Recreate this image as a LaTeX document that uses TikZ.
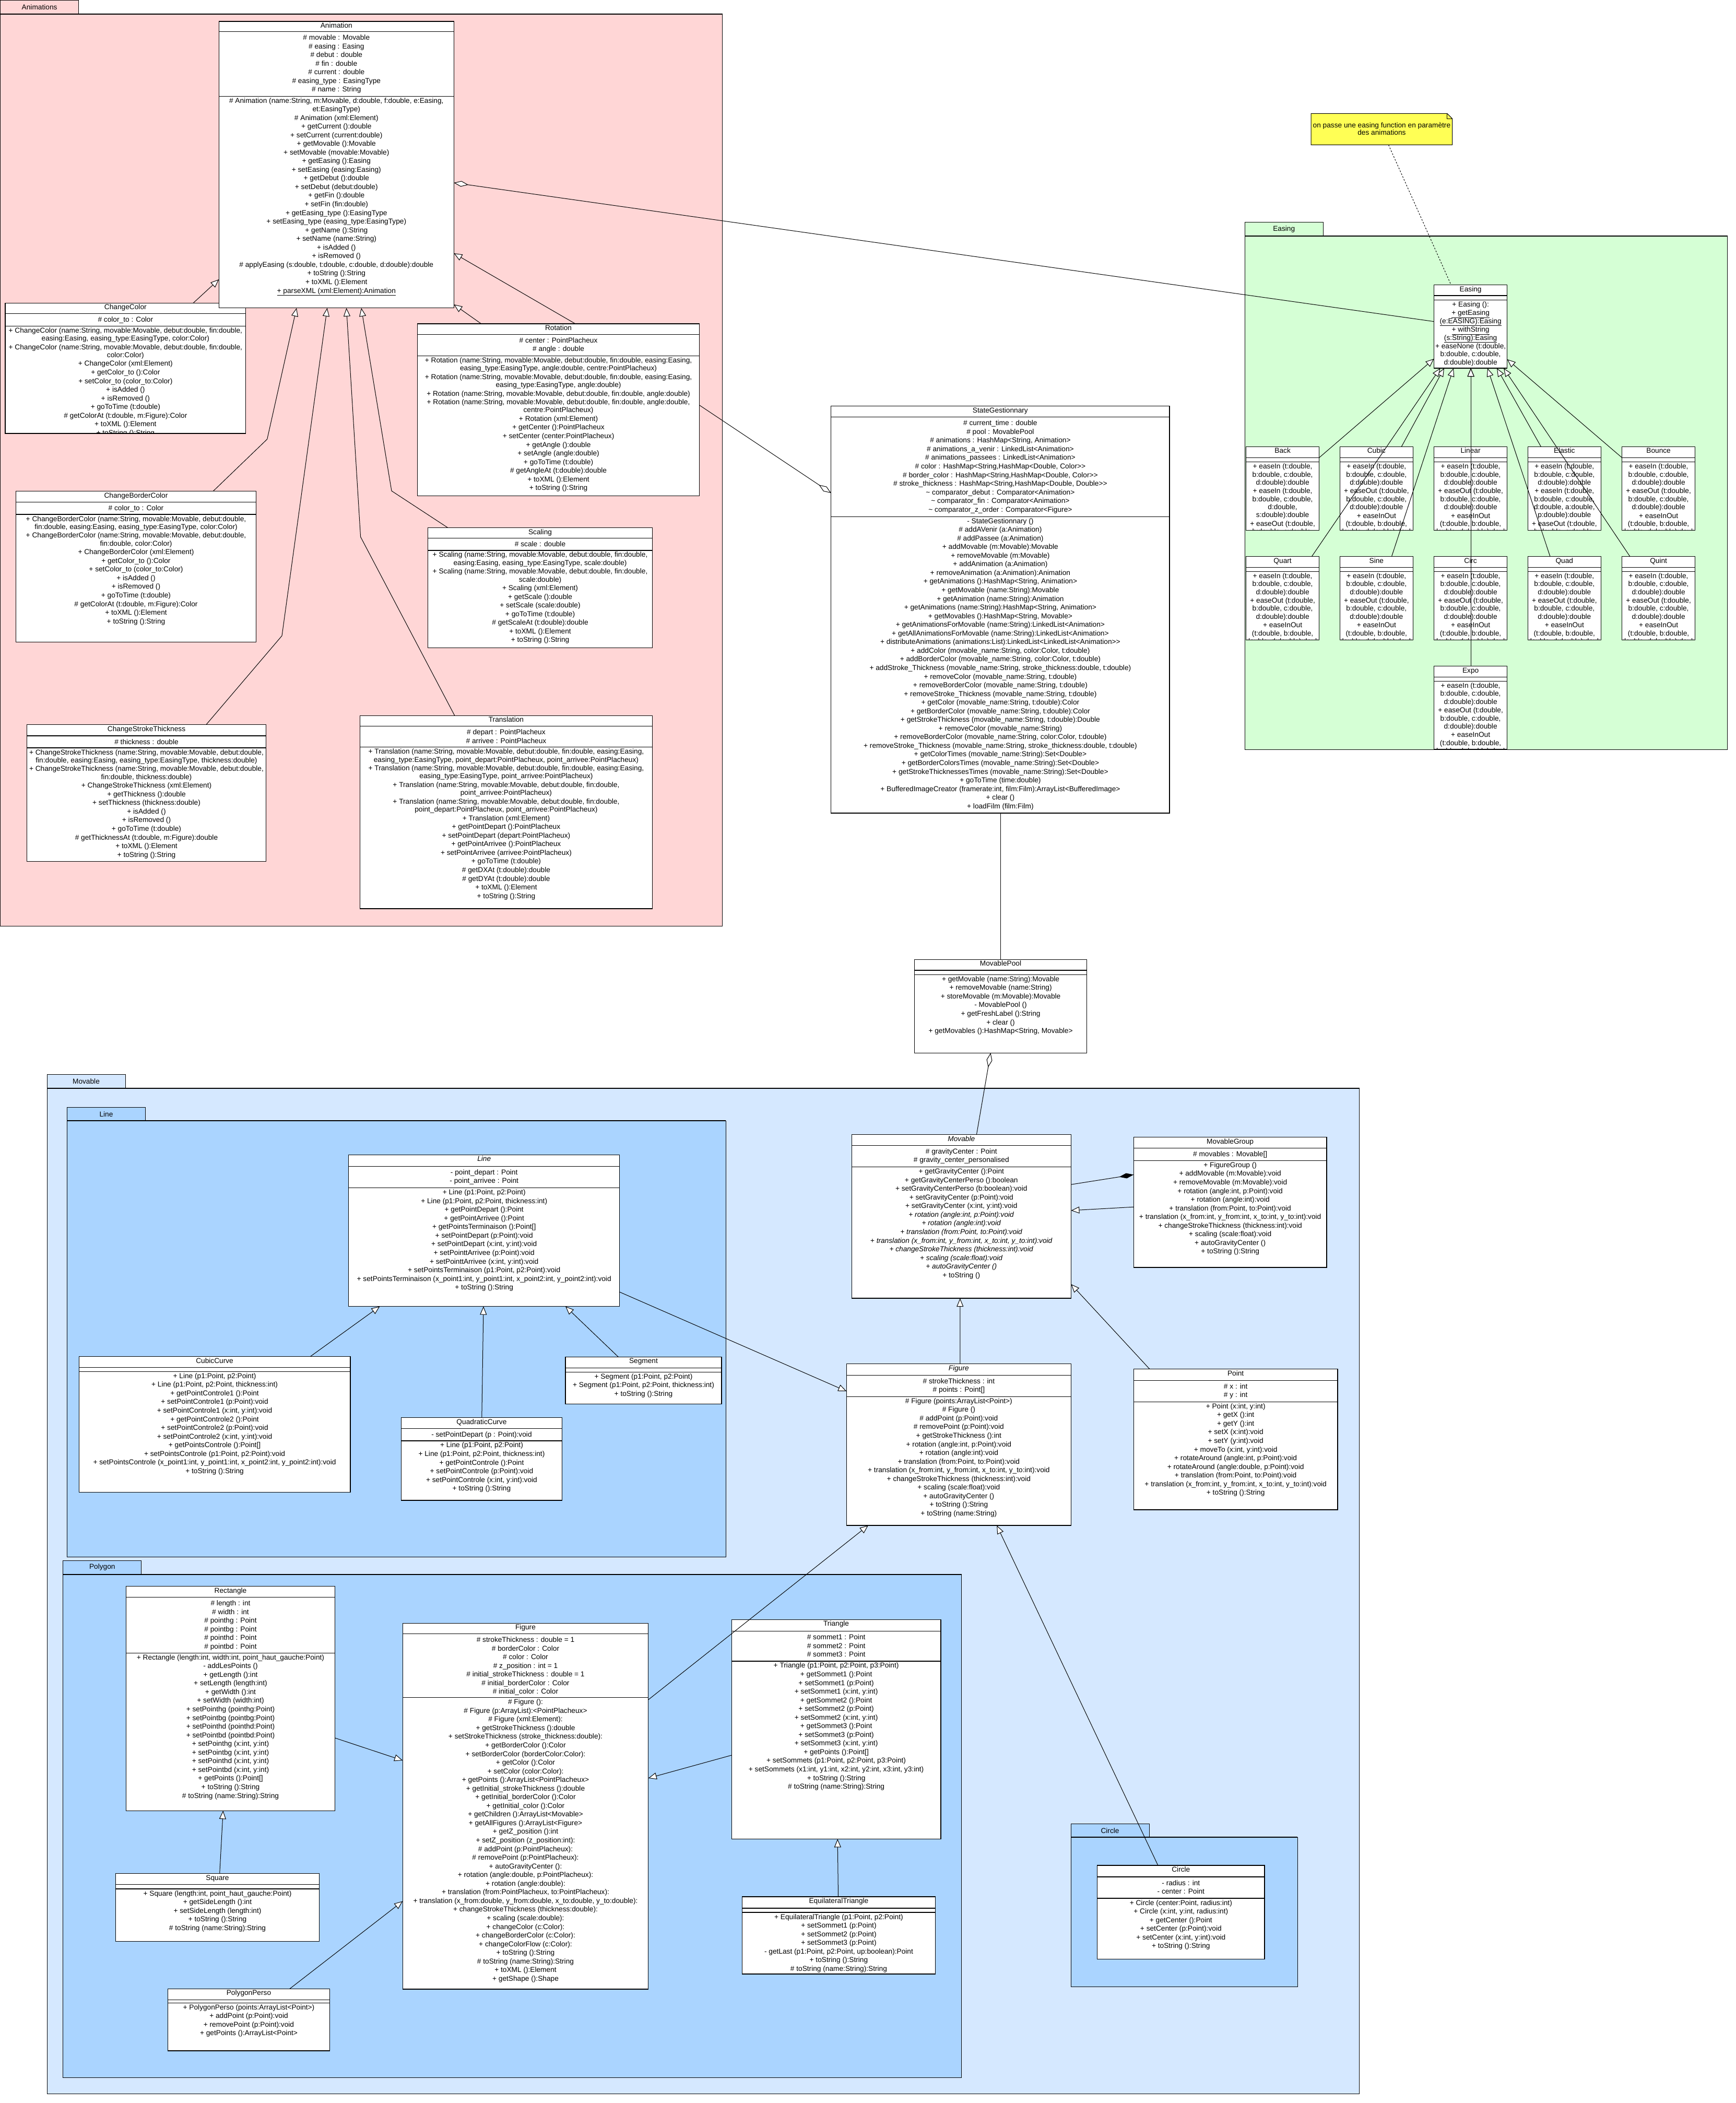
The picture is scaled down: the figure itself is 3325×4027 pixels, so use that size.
\documentclass[tikz,border=0pt]{standalone}
\usepackage{fontspec}
\setmainfont{Liberation Sans}
\usetikzlibrary{arrows.meta,calc}
\definecolor{pinkpkg}{RGB}{255,214,214}
\definecolor{greenpkg}{RGB}{213,255,213}
\definecolor{bluepkg}{RGB}{213,232,255}
\definecolor{blueinner}{RGB}{170,212,255}
\definecolor{noteyellow}{RGB}{255,255,85}
\newcommand\clsbox[7]{%
  \pgfmathsetmacro\uW{#3-#2}%
  \pgfmathsetmacro\uH{#7-#4}%
  \pgfmathsetmacro\uX{(#2+#3)/2}%
  \def\uN{#1}\def\uL{#2}\def\uR{#3}\def\uT{#4}\def\uTS{#5}\def\uAS{#6}\def\uB{#7}%
  \node[clsnode, minimum width=\uW pt, minimum height=\uH pt, anchor=north west] (#1) at (#2,#4) {};
  \draw[sepline] (#2,#5) -- (#3,#5) (#2,#6) -- (#3,#6);}
\newcommand\clstitle[1]{\node[txt, anchor=north] (\uN-t) at (\uX,\uT+1.5) {\rule{0pt}{11pt}#1};}
\newcommand\clsattr[1]{\begin{scope}\clip (\uL,\uTS) rectangle (\uR,\uAS);
  \node[txt, anchor=north] (\uN-a) at (\uX,\uTS+5) {\rule{0pt}{11pt}#1};\end{scope}}
\newcommand\clsmeth[1]{\begin{scope}\clip (\uL,\uAS) rectangle (\uR,\uB);
  \node[txt, anchor=north] (\uN-m) at (\uX,\uAS+2) {\rule{0pt}{11pt}#1};\end{scope}}
\newcommand\pkg[8]{%
  \filldraw[pkgline, fill=#7] (#2,#3) rectangle ({#2+150},#4);
  \filldraw[pkgline, fill=#7] (#2,#4) rectangle (#5,#6);
  \draw[line width=2pt] (#2,#4) -- (#5,#4);
  \node[txt] (#1) at ({#2+75},{(#3+#4)/2}) {#8};}
\newcommand\easeStd{+ easeIn (t:double,\\[-1.25pt]b:double, c:double,\\[-1.25pt]d:double):double\\+ easeOut (t:double,\\[-1.25pt]b:double, c:double,\\[-1.25pt]d:double):double\\+ easeInOut\\[-1.25pt](t:double, b:double,\\[-1.25pt]c:double, d:double):double}
\newcommand\easeBack{+ easeIn (t:double,\\[-1.25pt]b:double, c:double,\\[-1.25pt]d:double):double\\+ easeIn (t:double,\\[-1.25pt]b:double, c:double,\\[-1.25pt]d:double,\\[-1.25pt]s:double):double\\+ easeOut (t:double,\\[-1.25pt]b:double, c:double,\\[-1.25pt]d:double,\\[-1.25pt]s:double):double}
\newcommand\easeElastic{+ easeIn (t:double,\\[-1.25pt]b:double, c:double,\\[-1.25pt]d:double):double\\+ easeIn (t:double,\\[-1.25pt]b:double, c:double,\\[-1.25pt]d:double, a:double,\\[-1.25pt]p:double):double\\+ easeOut (t:double,\\[-1.25pt]b:double, c:double,\\[-1.25pt]d:double):double}
\begin{document}
\begin{tikzpicture}[x=1pt,y=-1pt,
  clsnode/.style={draw=black, line width=1.2pt, fill=white, inner sep=0pt, outer sep=0pt},
  sepline/.style={line width=1.2pt},
  txt/.style={inner sep=0pt, outer sep=0pt, align=center, font=\fontsize{13.7}{16.55}\selectfont},
  conn/.style={line width=1pt},
  gen/.style={conn, -{Triangle[length=16pt, width=13pt, fill=white]}},
  agg/.style={conn, {Diamond[length=28pt, width=11pt, fill=white]}-},
  comp/.style={conn, {Diamond[length=28pt, width=10pt]}-},
  pkgline/.style={line width=1pt}]
\useasboundingbox (0,0) rectangle (3325,4027);
\fill[white] (0,0) rectangle (3325,4027);
% ---------------- packages ----------------
\pkg{pkgAnim}{0.6}{0.6}{26.5}{1383}{1773}{pinkpkg}{Animations}
\pkg{pkgEasing}{2384.2}{425.3}{451.7}{3308}{1435}{greenpkg}{Easing}
\pkg{pkgMovable}{90}{2057.5}{2083.9}{2603}{4009}{bluepkg}{Movable}
\pkg{pkgLine}{128.5}{2120}{2146.4}{1390}{2981}{blueinner}{Line}
\pkg{pkgPolygon}{120.8}{2988.2}{3014.6}{1841.4}{3978}{blueinner}{Polygon}
\pkg{pkgCircle}{2051}{3492}{3518.3}{2485}{3804}{blueinner}{Circle}
% ---------------- note ----------------
\node[minimum width=270.4pt, minimum height=60pt, anchor=north west, inner sep=0pt, outer sep=0pt] (note) at (2511.2,217.3) {};
\filldraw[fill=noteyellow, line width=1pt] (note.north west) -- ([shift={(-10,0)}]note.north east) -- ([shift={(0,10)}]note.north east) -- (note.south east) -- (note.south west) -- cycle;
\draw[line width=0.8pt] ([shift={(-10,0)}]note.north east) -- ([shift={(-10,10)}]note.north east) -- ([shift={(0,10)}]note.north east);
\node[txt, anchor=north, font=\fontsize{13.7}{14.7}\selectfont] (notetext) at (2646.4,233) {\rule{0pt}{11pt}on passe une easing function en paramètre\\des animations};
% ---------------- Animations ----------------
\clsbox{cc}{10}{470.7}{580.4}{600.6}{624.2}{830}
\clstitle{ChangeColor}
\clsattr{\# color\_to : Color}
\clsmeth{+ ChangeColor (name:String, movable:Movable, debut:double, fin:double,\\[-1.25pt]%
easing:Easing, easing\_type:EasingType, color:Color)\\%
+ ChangeColor (name:String, movable:Movable, debut:double, fin:double,\\[-1.25pt]%
color:Color)\\%
+ ChangeColor (xml:Element)\\%
+ getColor\_to ():Color\\%
+ setColor\_to (color\_to:Color)\\%
+ isAdded ()\\%
+ isRemoved ()\\%
+ goToTime (t:double)\\%
\# getColorAt (t:double, m:Figure):Color\\%
+ toXML ():Element\\%
+ toString ():String}
\clsbox{anim}{419.3}{869.3}{41}{60.5}{184.5}{589.8}
\clstitle{Animation}
\clsattr{\# movable : Movable\\\# easing : Easing\\\# debut : double\\\# fin : double\\\# current : double\\\# easing\_type : EasingType\\\# name : String}
\clsmeth{\# Animation (name:String, m:Movable, d:double, f:double, e:Easing,\\[-0.6pt]%
et:EasingType)\\%
\# Animation (xml:Element)\\%
+ getCurrent ():double\\%
+ setCurrent (current:double)\\%
+ getMovable ():Movable\\%
+ setMovable (movable:Movable)\\%
+ getEasing ():Easing\\%
+ setEasing (easing:Easing)\\%
+ getDebut ():double\\%
+ setDebut (debut:double)\\%
+ getFin ():double\\%
+ setFin (fin:double)\\%
+ getEasing\_type ():EasingType\\%
+ setEasing\_type (easing\_type:EasingType)\\%
+ getName ():String\\%
+ setName (name:String)\\%
+ isAdded ()\\%
+ isRemoved ()\\%
\# applyEasing (s:double, t:double, c:double, d:double):double\\%
+ toString ():String\\%
+ toXML ():Element\\%
\underline{+ parseXML (xml:Element):Animation}}
\clsbox{rot}{799.6}{1339.5}{620}{640.3}{681.3}{949.4}
\clstitle{Rotation}
\clsattr{\# center : PointPlacheux\\\# angle : double}
\clsmeth{+ Rotation (name:String, movable:Movable, debut:double, fin:double, easing:Easing,\\[-1.25pt]%
easing\_type:EasingType, angle:double, centre:PointPlacheux)\\%
+ Rotation (name:String, movable:Movable, debut:double, fin:double, easing:Easing,\\[-1.25pt]%
easing\_type:EasingType, angle:double)\\%
+ Rotation (name:String, movable:Movable, debut:double, fin:double, angle:double)\\%
+ Rotation (name:String, movable:Movable, debut:double, fin:double, angle:double,\\[-1.25pt]%
centre:PointPlacheux)\\%
+ Rotation (xml:Element)\\%
+ getCenter ():PointPlacheux\\%
+ setCenter (center:PointPlacheux)\\%
+ getAngle ():double\\%
+ setAngle (angle:double)\\%
+ goToTime (t:double)\\%
\# getAngleAt (t:double):double\\%
+ toXML ():Element\\%
+ toString ():String}
\clsbox{cbc}{30.3}{490.7}{940.5}{961.4}{985}{1229.7}
\clstitle{ChangeBorderColor}
\clsattr{\# color\_to : Color}
\clsmeth{+ ChangeBorderColor (name:String, movable:Movable, debut:double,\\[-1.25pt]%
fin:double, easing:Easing, easing\_type:EasingType, color:Color)\\%
+ ChangeBorderColor (name:String, movable:Movable, debut:double,\\[-1.25pt]%
fin:double, color:Color)\\%
+ ChangeBorderColor (xml:Element)\\%
+ getColor\_to ():Color\\%
+ setColor\_to (color\_to:Color)\\%
+ isAdded ()\\%
+ isRemoved ()\\%
+ goToTime (t:double)\\%
\# getColorAt (t:double, m:Figure):Color\\%
+ toXML ():Element\\%
+ toString ():String}
\clsbox{scal}{819.5}{1249.6}{1010.7}{1030.2}{1053.9}{1240.6}
\clstitle{Scaling}
\clsattr{\# scale : double}
\clsmeth{+ Scaling (name:String, movable:Movable, debut:double, fin:double,\\[-1.25pt]%
easing:Easing, easing\_type:EasingType, scale:double)\\%
+ Scaling (name:String, movable:Movable, debut:double, fin:double,\\[-1.25pt]%
scale:double)\\%
+ Scaling (xml:Element)\\%
+ getScale ():double\\%
+ setScale (scale:double)\\%
+ goToTime (t:double)\\%
\# getScaleAt (t:double):double\\%
+ toXML ():Element\\%
+ toString ():String}
\clsbox{cst}{51.7}{509.3}{1387.5}{1409}{1432}{1649.6}
\clstitle{ChangeStrokeThickness}
\clsattr{\# thickness : double}
\clsmeth{+ ChangeStrokeThickness (name:String, movable:Movable, debut:double,\\[-1.25pt]%
fin:double, easing:Easing, easing\_type:EasingType, thickness:double)\\%
+ ChangeStrokeThickness (name:String, movable:Movable, debut:double,\\[-1.25pt]%
fin:double, thickness:double)\\%
+ ChangeStrokeThickness (xml:Element)\\%
+ getThickness ():double\\%
+ setThickness (thickness:double)\\%
+ isAdded ()\\%
+ isRemoved ()\\%
+ goToTime (t:double)\\%
\# getThicknessAt (t:double, m:Figure):double\\%
+ toXML ():Element\\%
+ toString ():String}
\clsbox{trans}{689.3}{1249.6}{1370.3}{1390.5}{1430.8}{1740}
\clstitle{Translation}
\clsattr{\# depart : PointPlacheux\\\# arrivee : PointPlacheux}
\clsmeth{+ Translation (name:String, movable:Movable, debut:double, fin:double, easing:Easing,\\[-1.25pt]%
easing\_type:EasingType, point\_depart:PointPlacheux, point\_arrivee:PointPlacheux)\\%
+ Translation (name:String, movable:Movable, debut:double, fin:double, easing:Easing,\\[-1.25pt]%
easing\_type:EasingType, point\_arrivee:PointPlacheux)\\%
+ Translation (name:String, movable:Movable, debut:double, fin:double,\\[-1.25pt]%
point\_arrivee:PointPlacheux)\\%
+ Translation (name:String, movable:Movable, debut:double, fin:double,\\[-1.25pt]%
point\_depart:PointPlacheux, point\_arrivee:PointPlacheux)\\%
+ Translation (xml:Element)\\%
+ getPointDepart ():PointPlacheux\\%
+ setPointDepart (depart:PointPlacheux)\\%
+ getPointArrivee ():PointPlacheux\\%
+ setPointArrivee (arrivee:PointPlacheux)\\%
+ goToTime (t:double)\\%
\# getDXAt (t:double):double\\%
\# getDYAt (t:double):double\\%
+ toXML ():Element\\%
+ toString ():String}
% ---------------- StateGestionnary / MovablePool ----------------
\clsbox{sg}{1591.8}{2240}{777.6}{798.7}{989.1}{1556.9}
\clstitle{StateGestionnary}
\clsattr{\# current\_time : double\\%
\# pool : MovablePool\\%
\# animations : HashMap<String, Animation>\\%
\# animations\_a\_venir : LinkedList<Animation>\\%
\# animations\_passees : LinkedList<Animation>\\%
\# color : HashMap<String,HashMap<Double, Color>{}>\\%
\# border\_color : HashMap<String,HashMap<Double, Color>{}>\\%
\# stroke\_thickness : HashMap<String,HashMap<Double, Double>{}>\\%
\textasciitilde{} comparator\_debut : Comparator<Animation>\\%
\textasciitilde{} comparator\_fin : Comparator<Animation>\\%
\textasciitilde{} comparator\_z\_order : Comparator<Figure>}
\clsmeth{- StateGestionnary ()\\%
\# addAVenir (a:Animation)\\%
\# addPassee (a:Animation)\\%
+ addMovable (m:Movable):Movable\\%
+ removeMovable (m:Movable)\\%
+ addAnimation (a:Animation)\\%
+ removeAnimation (a:Animation):Animation\\%
+ getAnimations ():HashMap<String, Animation>\\%
+ getMovable (name:String):Movable\\%
+ getAnimation (name:String):Animation\\%
+ getAnimations (name:String):HashMap<String, Animation>\\%
+ getMovables ():HashMap<String, Movable>\\%
+ getAnimationsForMovable (name:String):LinkedList<Animation>\\%
+ getAllAnimationsForMovable (name:String):LinkedList<Animation>\\%
+ distributeAnimations (animations:List):LinkedList<LinkedList<Animation>{}>\\%
+ addColor (movable\_name:String, color:Color, t:double)\\%
+ addBorderColor (movable\_name:String, color:Color, t:double)\\%
+ addStroke\_Thickness (movable\_name:String, stroke\_thickness:double, t:double)\\%
+ removeColor (movable\_name:String, t:double)\\%
+ removeBorderColor (movable\_name:String, t:double)\\%
+ removeStroke\_Thickness (movable\_name:String, t:double)\\%
+ getColor (movable\_name:String, t:double):Color\\%
+ getBorderColor (movable\_name:String, t:double):Color\\%
+ getStrokeThickness (movable\_name:String, t:double):Double\\%
+ removeColor (movable\_name:String)\\%
+ removeBorderColor (movable\_name:String, color:Color, t:double)\\%
+ removeStroke\_Thickness (movable\_name:String, stroke\_thickness:double, t:double)\\%
+ getColorTimes (movable\_name:String):Set<Double>\\%
+ getBorderColorsTimes (movable\_name:String):Set<Double>\\%
+ getStrokeThicknessesTimes (movable\_name:String):Set<Double>\\%
+ goToTime (time:double)\\%
+ BufferedImageCreator (framerate:int, film:Film):ArrayList<BufferedImage>\\%
+ clear ()\\%
+ loadFilm (film:Film)}
\clsbox{mpool}{1751.7}{2081.4}{1837.3}{1857.9}{1866.3}{2016.1}
\clstitle{MovablePool}
\clsmeth{+ getMovable (name:String):Movable\\%
+ removeMovable (name:String)\\%
+ storeMovable (m:Movable):Movable\\%
- MovablePool ()\\%
+ getFreshLabel ():String\\%
+ clear ()\\%
+ getMovables ():HashMap<String, Movable>}
% ---------------- Easing ----------------
\clsbox{easing}{2746.6}{2886.6}{545.7}{566}{574.3}{705}
\clstitle{Easing}
\clsmeth{+ Easing ():\\%
\underline{+ getEasing}\\[-1.25pt]%
\underline{(e:EASING):Easing}\\%
\underline{+ withString}\\[-1.25pt]%
\underline{(s:String):Easing}\\%
+ easeNone (t:double,\\[-1.25pt]%
b:double, c:double,\\[-1.25pt]%
d:double):double}
\clsbox{back}{2386.6}{2526.6}{855.3}{876.4}{884.8}{1015.3}\clstitle{Back}\clsmeth{\easeBack}
\clsbox{ecubic}{2566.3}{2706.3}{855.3}{876.4}{884.8}{1015.3}\clstitle{Cubic}\clsmeth{\easeStd}
\clsbox{linear}{2746.6}{2886.6}{855.3}{876.4}{884.8}{1015.3}\clstitle{Linear}\clsmeth{\easeStd}
\clsbox{elastic}{2926.3}{3066.3}{855.3}{876.4}{884.8}{1015.3}\clstitle{Elastic}\clsmeth{\easeElastic}
\clsbox{bounce}{3106.6}{3246.6}{855.3}{876.4}{884.8}{1015.3}\clstitle{Bounce}\clsmeth{\easeStd}
\clsbox{quart}{2386.6}{2526.6}{1065.8}{1086.5}{1094.5}{1225.4}\clstitle{Quart}\clsmeth{\easeStd}
\clsbox{sine}{2566.3}{2706.3}{1065.8}{1086.5}{1094.5}{1225.4}\clstitle{Sine}\clsmeth{\easeStd}
\clsbox{circ}{2746.6}{2886.6}{1065.8}{1086.5}{1094.5}{1225.4}\clstitle{Circ}\clsmeth{\easeStd}
\clsbox{equad}{2926.3}{3066.3}{1065.8}{1086.5}{1094.5}{1225.4}\clstitle{Quad}\clsmeth{\easeStd}
\clsbox{quint}{3106.6}{3246.6}{1065.8}{1086.5}{1094.5}{1225.4}\clstitle{Quint}\clsmeth{\easeStd}
\clsbox{expo}{2746.6}{2886.6}{1275.5}{1296.2}{1304.6}{1435}\clstitle{Expo}\clsmeth{\easeStd}
% ---------------- Movable ----------------
\clsbox{movable}{1631.2}{2051.4}{2172.7}{2193.3}{2234.6}{2486}
\clstitle{\textit{Movable}}
\clsattr{\# gravityCenter : Point\\\# gravity\_center\_personalised}
\clsmeth{+ getGravityCenter ():Point\\%
+ getGravityCenterPerso ():boolean\\%
+ setGravityCenterPerso (b:boolean):void\\%
+ setGravityCenter (p:Point):void\\%
+ setGravityCenter (x:int, y:int):void\\%
\textit{+ rotation (angle:int, p:Point):void}\\%
\textit{+ rotation (angle:int):void}\\%
\textit{+ translation (from:Point, to:Point):void}\\%
\textit{+ translation (x\_from:int, y\_from:int, x\_to:int, y\_to:int):void}\\%
\textit{+ changeStrokeThickness (thickness:int):void}\\%
\textit{+ scaling (scale:float):void}\\%
\textit{+ autoGravityCenter ()}\\%
+ toString ()}
\clsbox{mgroup}{2171.3}{2541}{2177.7}{2198.4}{2222.4}{2426.9}
\clstitle{MovableGroup}
\clsattr{\# movables : Movable[]}
\clsmeth{+ FigureGroup ()\\%
+ addMovable (m:Movable):void\\%
+ removeMovable (m:Movable):void\\%
+ rotation (angle:int, p:Point):void\\%
+ rotation (angle:int):void\\%
+ translation (from:Point, to:Point):void\\%
+ translation (x\_from:int, y\_from:int, x\_to:int, y\_to:int):void\\%
+ changeStrokeThickness (thickness:int):void\\%
+ scaling (scale:float):void\\%
+ autoGravityCenter ()\\%
+ toString ():String}
\clsbox{figa}{1621.4}{2051.3}{2611.7}{2633.3}{2674.3}{2921}
\clstitle{\textit{Figure}}
\clsattr{\# strokeThickness : int\\\# points : Point[]}
\clsmeth{\# Figure (points:ArrayList<Point>)\\%
\# Figure ()\\%
\# addPoint (p:Point):void\\%
\# removePoint (p:Point):void\\%
+ getStrokeThickness ():int\\%
+ rotation (angle:int, p:Point):void\\%
+ rotation (angle:int):void\\%
+ translation (from:Point, to:Point):void\\%
+ translation (x\_from:int, y\_from:int, x\_to:int, y\_to:int):void\\%
+ changeStrokeThickness (thickness:int):void\\%
+ scaling (scale:float):void\\%
+ autoGravityCenter ()\\%
+ toString ():String\\%
+ toString (name:String)}
\clsbox{point}{2171.3}{2562}{2621.7}{2643.3}{2684.3}{2891}
\clstitle{Point}
\clsattr{\# x : int\\\# y : int}
\clsmeth{+ Point (x:int, y:int)\\%
+ getX ():int\\%
+ getY ():int\\%
+ setX (x:int):void\\%
+ setY (y:int):void\\%
+ moveTo (x:int, y:int):void\\%
+ rotateAround (angle:int, p:Point):void\\%
+ rotateAround (angle:double, p:Point):void\\%
+ translation (from:Point, to:Point):void\\%
+ translation (x\_from:int, y\_from:int, x\_to:int, y\_to:int):void\\%
+ toString ():String}
% ---------------- Line package ----------------
\clsbox{line}{667.7}{1186.7}{2211.4}{2233.3}{2274.6}{2501.5}
\clstitle{\textit{Line}}
\clsattr{- point\_depart : Point\\- point\_arrivee : Point}
\clsmeth{+ Line (p1:Point, p2:Point)\\%
+ Line (p1:Point, p2:Point, thickness:int)\\%
+ getPointDepart ():Point\\%
+ getPointArrivee ():Point\\%
+ getPointsTerminaison ():Point[]\\%
+ setPointDepart (p:Point):void\\%
+ setPointDepart (x:int, y:int):void\\%
+ setPointtArrivee (p:Point):void\\%
+ setPointtArrivee (x:int, y:int):void\\%
+ setPointsTerminaison (p1:Point, p2:Point):void\\%
+ setPointsTerminaison (x\_point1:int, y\_point1:int, x\_point2:int, y\_point2:int):void\\%
+ toString ():String}
\clsbox{cubic}{151.2}{670.9}{2597.5}{2618.6}{2626.3}{2857.1}
\clstitle{CubicCurve}
\clsmeth{+ Line (p1:Point, p2:Point)\\%
+ Line (p1:Point, p2:Point, thickness:int)\\%
+ getPointControle1 ():Point\\%
+ setPointControle1 (p:Point):void\\%
+ setPointControle1 (x:int, y:int):void\\%
+ getPointControle2 ():Point\\%
+ setPointControle2 (p:Point):void\\%
+ setPointControle2 (x:int, y:int):void\\%
+ getPointsControle ():Point[]\\%
+ setPointsControle (p1:Point, p2:Point):void\\%
+ setPointsControle (x\_point1:int, y\_point1:int, x\_point2:int, y\_point2:int):void\\%
+ toString ():String}
\clsbox{quad}{768.2}{1076.7}{2714.6}{2735.3}{2758.9}{2873}
\clstitle{QuadraticCurve}
\clsattr{- setPointDepart (p : Point):void}
\clsmeth{+ Line (p1:Point, p2:Point)\\%
+ Line (p1:Point, p2:Point, thickness:int)\\%
+ getPointControle ():Point\\%
+ setPointControle (p:Point):void\\%
+ setPointControle (x:int, y:int):void\\%
+ toString ():String}
\clsbox{seg}{1083}{1382}{2598.4}{2619.4}{2627.2}{2688.3}
\clstitle{Segment}
\clsmeth{+ Segment (p1:Point, p2:Point)\\%
+ Segment (p1:Point, p2:Point, thickness:int)\\%
+ toString ():String}
% ---------------- Polygon package ----------------
\clsbox{rect}{241.3}{641.7}{3037.8}{3058.5}{3165.2}{3467.2}
\clstitle{Rectangle}
\clsattr{\# length : int\\\# width : int\\\# pointhg : Point\\\# pointbg : Point\\\# pointhd : Point\\\# pointbd : Point}
\clsmeth{+ Rectangle (length:int, width:int, point\_haut\_gauche:Point)\\%
- addLesPoints ()\\%
+ getLength ():int\\%
+ setLength (length:int)\\%
+ getWidth ():int\\%
+ setWidth (width:int)\\%
+ setPointhg (pointhg:Point)\\%
+ setPointbg (pointbg:Point)\\%
+ setPointhd (pointhd:Point)\\%
+ setPointbd (pointbd:Point)\\%
+ setPointhg (x:int, y:int)\\%
+ setPointbg (x:int, y:int)\\%
+ setPointhd (x:int, y:int)\\%
+ setPointbd (x:int, y:int)\\%
+ getPoints ():Point[]\\%
+ toString ():String\\%
\# toString (name:String):String}
\clsbox{square}{221.3}{611.7}{3587.7}{3608.4}{3617}{3717.5}
\clstitle{Square}
\clsmeth{+ Square (length:int, point\_haut\_gauche:Point)\\%
+ getSideLength ():int\\%
+ setSideLength (length:int)\\%
+ toString ():String\\%
\# toString (name:String):String}
\clsbox{pperso}{321.3}{631.7}{3808.2}{3829.4}{3835.2}{3927}
\clstitle{PolygonPerso}
\clsmeth{+ PolygonPerso (points:ArrayList<Point>)\\%
+ addPoint (p:Point):void\\%
+ removePoint (p:Point):void\\%
+ getPoints ():ArrayList<Point>}
\clsbox{figc}{771.3}{1241.7}{3108.1}{3128.5}{3250.7}{3809}
\clstitle{Figure}
\clsattr{\# strokeThickness : double = 1\\%
\# borderColor : Color\\%
\# color : Color\\%
\# z\_position : int = 1\\%
\# initial\_strokeThickness : double = 1\\%
\# initial\_borderColor : Color\\%
\# initial\_color : Color}
\clsmeth{\# Figure ():\\%
\# Figure (p:ArrayList):<PointPlacheux>\\%
\# Figure (xml:Element):\\%
+ getStrokeThickness ():double\\%
+ setStrokeThickness (stroke\_thickness:double):\\%
+ getBorderColor ():Color\\%
+ setBorderColor (borderColor:Color):\\%
+ getColor ():Color\\%
+ setColor (color:Color):\\%
+ getPoints ():ArrayList<PointPlacheux>\\%
+ getInitial\_strokeThickness ():double\\%
+ getInitial\_borderColor ():Color\\%
+ getInitial\_color ():Color\\%
+ getChildren ():ArrayList<Movable>\\%
+ getAllFigures ():ArrayList<Figure>\\%
+ getZ\_position ():int\\%
+ setZ\_position (z\_position:int):\\%
\# addPoint (p:PointPlacheux):\\%
\# removePoint (p:PointPlacheux):\\%
+ autoGravityCenter ():\\%
+ rotation (angle:double, p:PointPlacheux):\\%
+ rotation (angle:double):\\%
+ translation (from:PointPlacheux, to:PointPlacheux):\\%
+ translation (x\_from:double, y\_from:double, x\_to:double, y\_to:double):\\%
+ changeStrokeThickness (thickness:double):\\%
+ scaling (scale:double):\\%
+ changeColor (c:Color):\\%
+ changeBorderColor (c:Color):\\%
+ changeColorFlow (c:Color):\\%
+ toString ():String\\%
\# toString (name:String):String\\%
+ toXML ():Element\\%
+ getShape ():Shape}
\clsbox{tri}{1401.2}{1802}{3101.1}{3123.6}{3180.9}{3521.4}
\clstitle{Triangle}
\clsattr{\# sommet1 : Point\\\# sommet2 : Point\\\# sommet3 : Point}
\clsmeth{+ Triangle (p1:Point, p2:Point, p3:Point)\\%
+ getSommet1 ():Point\\%
+ setSommet1 (p:Point)\\%
+ setSommet1 (x:int, y:int)\\%
+ getSommet2 ():Point\\%
+ setSommet2 (p:Point)\\%
+ setSommet2 (x:int, y:int)\\%
+ getSommet3 ():Point\\%
+ setSommet3 (p:Point)\\%
+ setSommet3 (x:int, y:int)\\%
+ getPoints ():Point[]\\%
+ setSommets (p1:Point, p2:Point, p3:Point)\\%
+ setSommets (x1:int, y1:int, x2:int, y2:int, x3:int, y3:int)\\%
+ toString ():String\\%
\# toString (name:String):String}
\clsbox{eqtri}{1421.5}{1791.4}{3632}{3654}{3662}{3780}
\clstitle{EquilateralTriangle}
\clsmeth{+ EquilateralTriangle (p1:Point, p2:Point)\\%
+ setSommet1 (p:Point)\\%
+ setSommet2 (p:Point)\\%
+ setSommet3 (p:Point)\\%
- getLast (p1:Point, p2:Point, up:boolean):Point\\%
+ toString ():String\\%
\# toString (name:String):String}
\clsbox{circle}{2101.6}{2422}{3572}{3594}{3635}{3751.8}
\clstitle{Circle}
\clsattr{- radius : int\\- center : Point}
\clsmeth{+ Circle (center:Point, radius:int)\\%
+ Circle (x:int, y:int, radius:int)\\%
+ getCenter ():Point\\%
+ setCenter (p:Point):void\\%
+ setCenter (x:int, y:int):void\\%
+ toString ():String}
% ---------------- connectors ----------------
\coordinate (bendCBC) at (511.7,841);
\coordinate (bendCST) at (540,1217.4);
\coordinate (bendTR) at (690.6,1028);
\coordinate (bendSC) at (750,940);
\draw[gen] ([shift={(360,0)}]cc.north west) -- ([shift={(0,494)}]anim.north west);
\draw[gen] ([shift={(378,0)}]cbc.north west) -- (bendCBC) -- ([shift={(148.7,548.8)}]anim.north west);
\draw[gen] ([shift={(343.3,0)}]cst.north west) -- (bendCST) -- ([shift={(207.4,548.8)}]anim.north west);
\draw[gen] ([shift={(181.5,0)}]trans.north west) -- (bendTR) -- ([shift={(244.2,548.8)}]anim.north west);
\draw[gen] ([shift={(38.5,0)}]scal.north west) -- (bendSC) -- ([shift={(272.7,548.8)}]anim.north west);
\draw[gen] ([shift={(302.4,0)}]rot.north west) -- ([shift={(450,444)}]anim.north west);
\draw[gen] ([shift={(122.1,0)}]rot.north west) -- ([shift={(450,542)}]anim.north west);
\draw[agg] ([shift={(450,309)}]anim.north west) -- ([shift={(0,70)}]easing.north west);
\draw[agg] ([shift={(0,166.4)}]sg.north west) -- ([shift={(539.9,155.8)}]rot.north west);
\draw[conn] ([shift={(324.9,779.3)}]sg.north west) -- ([shift={(165,0)}]mpool.north west);
\draw[conn, dashed] ([shift={(148.2,60)}]note.north west) -- ([shift={(32.7,0)}]easing.north west);
% easing subclasses
\draw[gen] ([shift={(140,21.1)}]back.north west) -- ([shift={(0,141.3)}]easing.north west);
\draw[gen] ([shift={(118,0)}]ecubic.north west) -- ([shift={(19.4,159.3)}]easing.north west);
\draw[gen] ([shift={(125.7,0)}]quart.north west) -- ([shift={(11.9,159.3)}]easing.north west);
\draw[gen] ([shift={(99.1,0)}]sine.north west) -- ([shift={(37.4,159.3)}]easing.north west);
\draw[gen] ([shift={(70.5,0)}]linear.north west) -- ([shift={(70.5,159.3)}]easing.north west);
\draw[gen] ([shift={(70.5,0)}]circ.north west) -- ([shift={(70.5,159.3)}]easing.north west);
\draw[gen] ([shift={(70.5,0)}]expo.north west) -- ([shift={(70.5,159.3)}]easing.north west);
\draw[gen] ([shift={(42.7,0)}]equad.north west) -- ([shift={(102.4,159.3)}]easing.north west);
\draw[gen] ([shift={(25.1,0)}]elastic.north west) -- ([shift={(120.4,159.3)}]easing.north west);
\draw[gen] ([shift={(15.4,0)}]quint.north west) -- ([shift={(133.4,159.3)}]easing.north west);
\draw[gen] ([shift={(0,21.1)}]bounce.north west) -- ([shift={(140,142.3)}]easing.north west);
% movable
\draw[agg] ([shift={(145.7,178.8)}]mpool.north west) -- ([shift={(239.2,0)}]movable.north west);
\draw[comp] ([shift={(0,71.6)}]mgroup.north west) -- ([shift={(420.2,95.5)}]movable.north west);
\draw[gen] ([shift={(0,133.5)}]mgroup.north west) -- ([shift={(420.2,145.2)}]movable.north west);
\draw[gen] ([shift={(217.4,0)}]figa.north west) -- ([shift={(207.6,313.3)}]movable.north west);
\draw[gen] ([shift={(30.7,0)}]point.north west) -- ([shift={(420.2,286.3)}]movable.north west);
\draw[gen] ([shift={(519,262.6)}]line.north west) -- ([shift={(0,52.3)}]figa.north west);
\draw[gen] ([shift={(443.2,0)}]cubic.north west) -- ([shift={(59.8,290.1)}]line.north west);
\draw[gen] ([shift={(154.6,0)}]quad.north west) -- ([shift={(258.3,290.1)}]line.north west);
\draw[gen] ([shift={(101.3,0)}]seg.north west) -- ([shift={(415.3,290.1)}]line.north west);
\draw[gen] ([shift={(199.4,0)}]square.north west) -- ([shift={(186,429.4)}]rect.north west);
\draw[gen] ([shift={(400.4,290.2)}]rect.north west) -- ([shift={(0,262.9)}]figc.north west);
\draw[gen] ([shift={(233.7,0)}]pperso.north west) -- ([shift={(0,532.4)}]figc.north west);
\draw[gen] ([shift={(0,259.9)}]tri.north west) -- ([shift={(470.4,296.9)}]figc.north west);
\draw[gen] ([shift={(470.4,146.7)}]figc.north west) -- ([shift={(41.5,309.3)}]figa.north west);
\draw[gen] ([shift={(184,0)}]eqtri.north west) -- ([shift={(203,420.3)}]tri.north west);
\draw[gen] ([shift={(116.3,0)}]circle.north west) -- ([shift={(287.8,309.3)}]figa.north west);
\end{tikzpicture}
\end{document}
